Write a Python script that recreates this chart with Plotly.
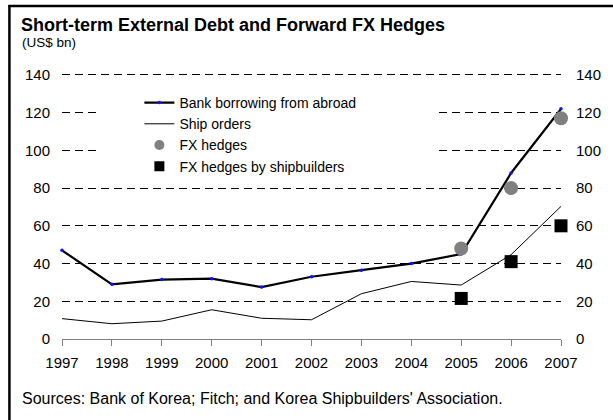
import plotly.graph_objects as go

years = [1997, 1998, 1999, 2000, 2001, 2002, 2003, 2004, 2005, 2006, 2007]
bank_borrowing = [47, 29, 31.5, 32, 27.5, 33, 36.5, 40, 45, 88, 122]
ship_orders = [10.8, 8.1, 9.5, 15.5, 11, 10.2, 24, 30.5, 28.6, 44.7, 70.3]
fx_years = [2005, 2006, 2007]
fx_hedges = [48, 80, 117]
fx_shipbuilders = [21.5, 41, 60]
y_ticks = [0, 20, 40, 60, 80, 100, 120, 140]

W, H = 613, 420
L, R, T, B = 62, 48, 73, 81
PW, PH = W - L - R, H - T - B
Y_TOP = 141


def px(x):
    return (x - L) / PW


def py(y):
    return (H - B - y) / PH


FONT = "Liberation Sans, Arial, sans-serif"

fig = go.Figure()

# data traces
fig.add_trace(go.Scatter(x=years, y=ship_orders, mode="lines",
                         line=dict(color="black", width=1), showlegend=False,
                         cliponaxis=False, hoverinfo="skip"))
fig.add_trace(go.Scatter(x=years, y=bank_borrowing, mode="lines+markers",
                         line=dict(color="black", width=2.2),
                         marker=dict(color="#1010ff", size=3.5, symbol="circle"),
                         showlegend=False, cliponaxis=False))
fig.add_trace(go.Scatter(x=fx_years, y=fx_hedges, mode="markers",
                         marker=dict(color="#808080", size=14, symbol="circle"),
                         showlegend=False, cliponaxis=False))
fig.add_trace(go.Scatter(x=fx_years, y=fx_shipbuilders, mode="markers",
                         marker=dict(color="black", size=13, symbol="square"),
                         showlegend=False, cliponaxis=False))

# legend entries
fig.add_trace(go.Scatter(x=[None], y=[None], mode="lines+markers", yaxis="y2",
                         name="Bank borrowing from abroad",
                         line=dict(color="black", width=2.2),
                         marker=dict(color="#1010ff", size=3.5)))
fig.add_trace(go.Scatter(x=[None], y=[None], mode="lines", yaxis="y2",
                         name="Ship orders", line=dict(color="black", width=1)))
fig.add_trace(go.Scatter(x=[None], y=[None], mode="markers", yaxis="y2",
                         name="FX hedges",
                         marker=dict(color="#808080", size=10, symbol="circle")))
fig.add_trace(go.Scatter(x=[None], y=[None], mode="markers", yaxis="y2",
                         name="FX hedges by shipbuilders",
                         marker=dict(color="black", size=10, symbol="square")))

fig.update_layout(
    width=W, height=H,
    margin=dict(l=L, r=R, t=T, b=B, pad=0),
    paper_bgcolor="white", plot_bgcolor="white",
    font=dict(family=FONT, size=15, color="black"),
    showlegend=True,
    legend=dict(x=px(140), y=py(87), xanchor="left", yanchor="top",
                bgcolor="rgba(0,0,0,0)", borderwidth=0,
                font=dict(family=FONT, size=14, color="black"),
                itemwidth=30, tracegroupgap=0),
    xaxis=dict(range=[1997, 2007], tickvals=years, ticktext=[str(y) for y in years],
               showgrid=False, zeroline=False, showline=True,
               linecolor="#808080", linewidth=1,
               ticks="outside", ticklen=6, tickcolor="#808080", tickwidth=1,
               tickfont=dict(family=FONT, size=15, color="black"),
               ticklabelstandoff=4),
    yaxis=dict(range=[0, Y_TOP], tickvals=y_ticks, showgrid=True,
               gridcolor="black", gridwidth=1, griddash="8px,5px",
               zeroline=False, showline=False, ticks="",
               tickfont=dict(family=FONT, size=15, color="black"),
               ticklabelstandoff=11),
    yaxis2=dict(range=[0, Y_TOP], tickvals=y_ticks, overlaying="y", side="right",
                showgrid=False, zeroline=False, showline=False, ticks="",
                tickfont=dict(family=FONT, size=15, color="black"),
                ticklabelstandoff=14),
    shapes=[
        # white legend backdrop hiding gridlines
        dict(type="rect", xref="paper", yref="paper",
             x0=px(100), x1=px(437), y0=py(176), y1=py(88),
             fillcolor="white", line=dict(width=0), layer="above"),
        # frame lines (left and top)
        dict(type="line", xref="paper", yref="paper",
             x0=px(9), x1=px(9), y0=py(5), y1=py(430),
             line=dict(color="black", width=2.5), layer="above"),
        dict(type="line", xref="paper", yref="paper",
             x0=px(8), x1=px(620), y0=py(6), y1=py(6),
             line=dict(color="black", width=2.5), layer="above"),
    ],
    annotations=[
        dict(text="<b>Short-term External Debt and Forward FX Hedges</b>",
             xref="paper", yref="paper", x=px(19), y=py(13),
             xanchor="left", yanchor="top", showarrow=False,
             font=dict(family=FONT, size=18, color="black")),
        dict(text="(US$ bn)", xref="paper", yref="paper", x=px(20), y=py(33),
             xanchor="left", yanchor="top", showarrow=False,
             font=dict(family=FONT, size=13.5, color="black")),
        dict(text="Sources: Bank of Korea; Fitch; and Korea Shipbuilders' Association.",
             xref="paper", yref="paper", x=px(20), y=py(399),
             xanchor="left", yanchor="middle", showarrow=False,
             font=dict(family=FONT, size=16, color="black")),
    ],
)

fig.write_html("out.html", config={"displayModeBar": False},
               post_script="document.body.style.margin='0px';")
